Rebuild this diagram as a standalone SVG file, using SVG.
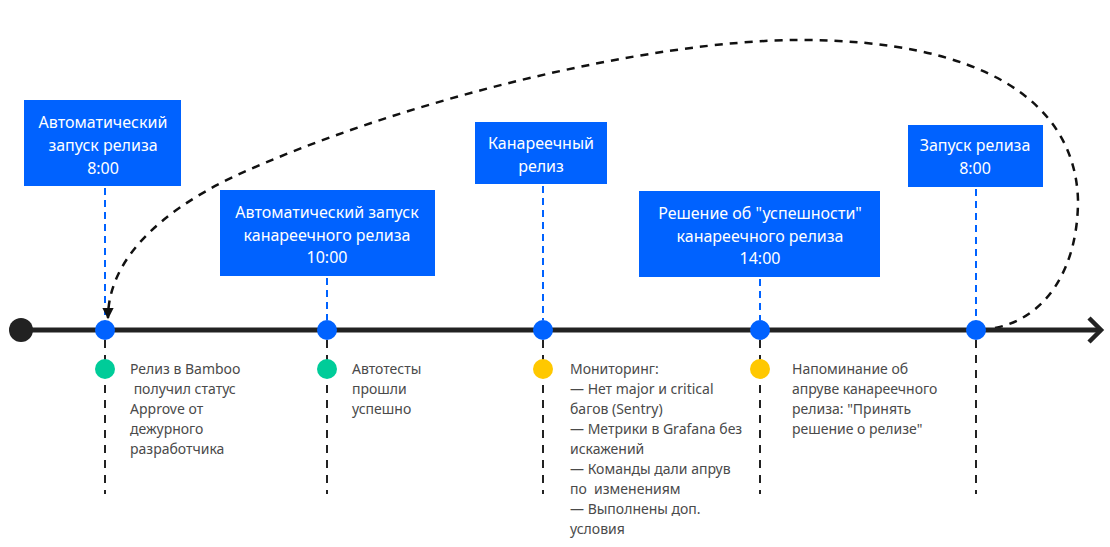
<svg xmlns="http://www.w3.org/2000/svg" width="1110" height="547" viewBox="0 0 1110 547">
<defs>
<style>
.box{fill:#0062ff}
.bt{font-family:"Noto Sans","Liberation Sans",sans-serif;font-size:16px;fill:#ffffff;text-anchor:middle}
.dt{font-family:"Noto Sans","Liberation Sans",sans-serif;font-size:14px;fill:#4a4a4a}
.blue{stroke:#0062ff;stroke-width:2;stroke-dasharray:7 5;fill:none}
.black{stroke:#222;stroke-width:2;stroke-dasharray:8 7;fill:none}
.dot{fill:#0062ff}
.green{fill:#00cc99}
.yellow{fill:#ffc800}
</style>
<marker id="ah" viewBox="0 0 10 10" refX="9" refY="5" markerWidth="6" markerHeight="4.5" orient="auto" markerUnits="strokeWidth">
<path d="M0,0 L10,5 L0,10 z" fill="#111"/>
</marker>
</defs>
<rect width="1110" height="547" fill="#ffffff"/>

<g id="connectors">
<line x1="105" y1="188" x2="105" y2="320" class="blue"/>
<line x1="327" y1="278" x2="327" y2="320" class="blue"/>
<line x1="543" y1="186" x2="543" y2="320" class="blue"/>
<line x1="760" y1="279" x2="760" y2="320" class="blue"/>
<line x1="976" y1="189" x2="976" y2="320" class="blue"/>
<line x1="105" y1="340" x2="105" y2="494" class="black"/>
<line x1="327" y1="340" x2="327" y2="494" class="black"/>
<line x1="543" y1="340" x2="543" y2="494" class="black"/>
<line x1="760" y1="340" x2="760" y2="494" class="black"/>
<line x1="976" y1="340" x2="976" y2="494" class="black"/>
<path d="M995,328 C1045,318 1078,270 1078,200 C1075,100 980,40 800,40 C650,40 400,100 233,177 C160,212 108,260 108,318" stroke="#111" stroke-width="2.5" stroke-dasharray="8 7" fill="none" marker-end="url(#ah)"/>
</g>

<g id="timeline">
<line x1="21" y1="330" x2="1100" y2="330" stroke="#222" stroke-width="5"/>
<polyline points="1089,318 1101,330 1089,342" fill="none" stroke="#222" stroke-width="4.5"/>
<circle cx="21" cy="330" r="12" fill="#222"/>
</g>

<g id="node-1">
<rect x="24" y="100" width="157" height="86" class="box"/>
<text class="bt" x="103" y="128">Автоматический</text>
<text class="bt" x="103" y="151">запуск релиза</text>
<text class="bt" x="103" y="174">8:00</text>
<circle cx="105" cy="330" r="10" class="dot"/>
<circle cx="105" cy="369" r="10" class="green"/>
<text class="dt" x="130" y="374">Релиз в Bamboo</text>
<text class="dt" x="130" y="394" xml:space="preserve"> получил статус</text>
<text class="dt" x="130" y="414">Approve от</text>
<text class="dt" x="130" y="434">дежурного</text>
<text class="dt" x="130" y="454">разработчика</text>
</g>

<g id="node-2">
<rect x="220" y="190" width="215" height="86" class="box"/>
<text class="bt" x="327" y="218">Автоматический запуск</text>
<text class="bt" x="327" y="241">канареечного релиза</text>
<text class="bt" x="327" y="263">10:00</text>
<circle cx="327" cy="330" r="10" class="dot"/>
<circle cx="327" cy="369" r="10" class="green"/>
<text class="dt" x="352" y="374">Автотесты</text>
<text class="dt" x="352" y="394">прошли</text>
<text class="dt" x="352" y="414">успешно</text>
</g>

<g id="node-3">
<rect x="475" y="122" width="132" height="62" class="box"/>
<text class="bt" x="541" y="149">Канареечный</text>
<text class="bt" x="541" y="172">релиз</text>
<circle cx="543" cy="330" r="10" class="dot"/>
<circle cx="543" cy="369" r="10" class="yellow"/>
<text class="dt" x="570" y="374">Мониторинг:</text>
<text class="dt" x="570" y="394">— Нет major и critical</text>
<text class="dt" x="570" y="414">багов (Sentry)</text>
<text class="dt" x="570" y="434">— Метрики в Grafana без</text>
<text class="dt" x="570" y="454">искажений</text>
<text class="dt" x="570" y="474">— Команды дали апрув</text>
<text class="dt" x="570" y="494" xml:space="preserve">по  изменениям</text>
<text class="dt" x="570" y="514">— Выполнены доп.</text>
<text class="dt" x="570" y="534">условия</text>
</g>

<g id="node-4">
<rect x="639" y="191" width="241" height="86" class="box"/>
<text class="bt" x="760" y="219">Решение об "успешности"</text>
<text class="bt" x="760" y="242">канареечного релиза</text>
<text class="bt" x="760" y="264">14:00</text>
<circle cx="760" cy="330" r="10" class="dot"/>
<circle cx="760" cy="369" r="10" class="yellow"/>
<text class="dt" x="792" y="374">Напоминание об</text>
<text class="dt" x="792" y="394">апруве канареечного</text>
<text class="dt" x="792" y="414">релиза: "Принять</text>
<text class="dt" x="792" y="434">решение о релизе"</text>
</g>

<g id="node-5">
<rect x="908" y="125" width="135" height="62" class="box"/>
<text class="bt" x="975" y="151">Запуск релиза</text>
<text class="bt" x="975" y="174">8:00</text>
<circle cx="976" cy="330" r="10" class="dot"/>
</g>
</svg>
